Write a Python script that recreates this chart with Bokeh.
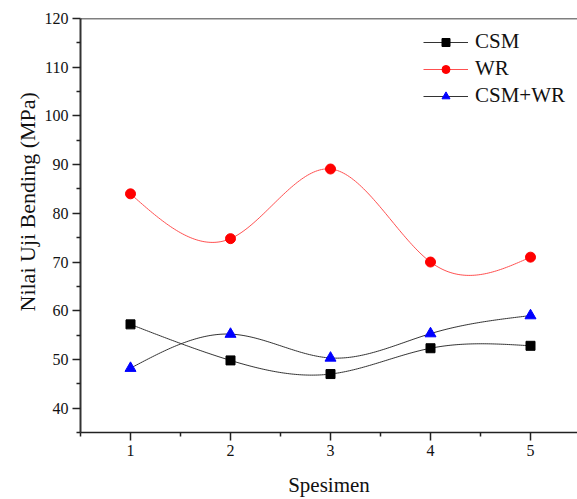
import numpy as np
from bokeh.plotting import figure
from bokeh.models import (FixedTicker, Range1d, Legend, LegendItem, Span, Title)
from bokeh.embed import file_html
from bokeh.resources import INLINE

# ---- data ----
spesimen = [1, 2, 3, 4, 5]
csm = [57.2, 49.8, 47.0, 52.3, 52.8]
wr = [84.0, 74.8, 89.1, 70.0, 71.0]
csm_wr = [48.2, 55.2, 50.3, 55.3, 59.0]
series_names = ["CSM", "WR", "CSM+WR"]
y_ticks = [40, 50, 60, 70, 80, 90, 100, 110, 120]
x_ticks = [1, 2, 3, 4, 5]

FONT = "Liberation Serif"


def natural_spline(xs, ys, n=200):
    x = np.asarray(xs, float)
    y = np.asarray(ys, float)
    m = len(x)
    h = np.diff(x)
    A = np.zeros((m, m))
    r = np.zeros(m)
    A[0, 0] = 1
    A[-1, -1] = 1
    for i in range(1, m - 1):
        A[i, i - 1] = h[i - 1]
        A[i, i] = 2 * (h[i - 1] + h[i])
        A[i, i + 1] = h[i]
        r[i] = 3 * ((y[i + 1] - y[i]) / h[i] - (y[i] - y[i - 1]) / h[i - 1])
    c = np.linalg.solve(A, r)
    b = np.zeros(m - 1)
    d = np.zeros(m - 1)
    for i in range(m - 1):
        b[i] = (y[i + 1] - y[i]) / h[i] - h[i] * (2 * c[i] + c[i + 1]) / 3
        d[i] = (c[i + 1] - c[i]) / (3 * h[i])
    xx = np.linspace(x[0], x[-1], n)
    idx = np.clip(np.searchsorted(x, xx, side="right") - 1, 0, m - 2)
    dx = xx - x[idx]
    yy = y[idx] + b[idx] * dx + c[idx] * dx ** 2 + d[idx] * dx ** 3
    return xx, yy


p = figure(width=577, height=499, output_backend="svg", toolbar_location=None,
           x_range=Range1d(0.5, 5.47), y_range=Range1d(35, 120),
           min_border_left=80, min_border_right=0, min_border_top=18,
           min_border_bottom=65)
p.xgrid.visible = False
p.ygrid.visible = False
p.outline_line_color = None
p.background_fill_color = "white"

# axes styling
for ax in (p.xaxis[0], p.yaxis[0]):
    ax.axis_line_width = 1.5
    ax.axis_line_color = "#222222"
    ax.major_tick_line_color = "#222222"
    ax.minor_tick_line_color = "#222222"
    ax.major_tick_line_width = 1.5
    ax.minor_tick_line_width = 1.5
    ax.major_tick_in = 0
    ax.major_tick_out = 8
    ax.minor_tick_in = 0
    ax.minor_tick_out = 4
    ax.major_label_text_font = FONT
    ax.major_label_text_font_size = "16px"
    ax.major_label_text_color = "#111111"
    ax.axis_label_text_font = FONT
    ax.axis_label_text_font_style = "normal"
    ax.axis_label_text_color = "#111111"

p.yaxis[0].ticker = FixedTicker(ticks=y_ticks,
                                minor_ticks=[t + 5 for t in [30] + y_ticks[:-1]])
p.xaxis[0].ticker = FixedTicker(ticks=x_ticks,
                                minor_ticks=[t - 0.5 for t in x_ticks] + [5.5])
p.yaxis[0].axis_line_width = 2
p.yaxis[0].axis_line_color = "#333333"
p.xaxis[0].axis_label = "Spesimen"
p.xaxis[0].axis_label_text_font_size = "21px"
p.xaxis[0].axis_label_standoff = 14
p.xaxis[0].major_label_standoff = 4
p.yaxis[0].major_label_standoff = 4

# y-axis title placed as a left Title to allow offset
ytitle = Title(text="Nilai Uji Bending (MPa)", align="left",
               text_font=FONT, text_font_size="22px", text_font_style="normal",
               text_color="#111111", offset=121, standoff=4)
p.add_layout(ytitle, "left")

# top border
p.add_layout(Span(location=120, dimension="width", line_color="black",
                  line_width=1.5))

items = []
colors_line = ["#333333", "#ff5050", "#333333"]
colors_mark = ["black", "red", "blue"]
markers = ["square", "circle", "triangle"]
sizes = [9, 10, 11]
for name, ys, lc, mc, mk, sz in zip(series_names, [csm, wr, csm_wr],
                                    colors_line, colors_mark, markers, sizes):
    xx, yy = natural_spline(spesimen, ys)
    lr = p.line(xx, yy, line_color=lc, line_width=1)
    sr = p.scatter(spesimen, ys, marker=mk, size=sz, fill_color=mc,
                   line_color=mc)
    items.append(LegendItem(label=name, renderers=[lr, sr]))

legend = Legend(items=items, location=(343, 324), padding=0, margin=0,
                spacing=2, glyph_width=45, glyph_height=20, label_height=20,
                label_standoff=7, label_text_font=FONT,
                label_text_font_size="21px", label_text_color="#111111",
                border_line_color=None, background_fill_alpha=0)
p.add_layout(legend, "center")

open("out.html", "w").write(file_html(p, INLINE))
